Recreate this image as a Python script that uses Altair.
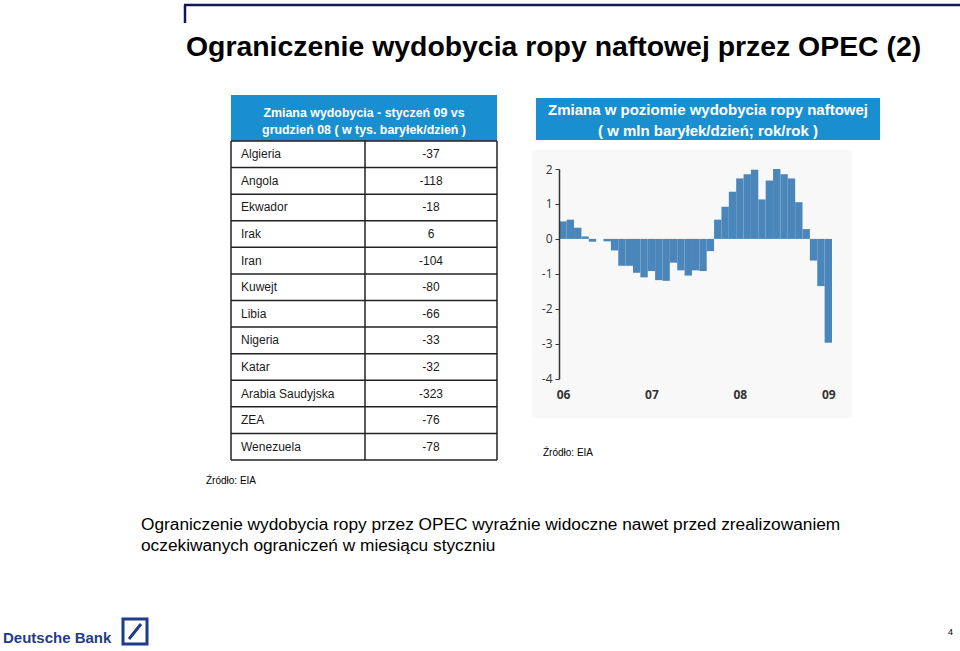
import json
import altair as alt
import pandas as pd

# ---------------- data ----------------
countries = ["Algieria", "Angola", "Ekwador", "Irak", "Iran", "Kuwejt", "Libia",
             "Nigeria", "Katar", "Arabia Saudyjska", "ZEA", "Wenezuela"]
changes = ["-37", "-118", "-18", "6", "-104", "-80", "-66", "-33", "-32", "-323", "-76", "-78"]

# monthly y/y change, Jan 2006 .. Jan 2009 (mln bbl/day)
monthly = [0.50, 0.55, 0.32, 0.07, -0.08, 0.00, -0.07, -0.33, -0.77, -0.77, -0.97, -1.10,
           -0.92, -1.18, -1.20, -0.68, -0.90, -1.05, -0.90, -0.92, -0.35, 0.55, 0.92, 1.35,
           1.73, 1.85, 1.98, 1.13, 1.67, 2.00, 1.85, 1.73, 1.05, 0.28, -0.62, -1.35,
           -2.97]
year_labels = ["06", "07", "08", "09"]
y_ticks = [2, 1, 0, -1, -2, -3, -4]

# ---------------- helpers ----------------
one = pd.DataFrame({"k": [0]})
FONT = "Liberation Sans"


def txt(s, x, y, size, weight="normal", color="#000000", align="left", font=FONT):
    return alt.Chart(one).mark_text(
        text=s, fontSize=size, fontWeight=weight, color=color, align=align,
        baseline="middle", font=font
    ).encode(x=alt.value(x), y=alt.value(y))


def rect(x1, x2, y1, y2, color, stroke=None, sw=0):
    kw = dict(color=color)
    if stroke:
        kw = dict(fill=color, stroke=stroke, strokeWidth=sw)
    return alt.Chart(one).mark_rect(**kw).encode(
        x=alt.value(x1), x2=alt.value(x2), y=alt.value(y1), y2=alt.value(y2))


def rule(x1, x2, y1, y2, color, sw):
    return alt.Chart(one).mark_rule(color=color, strokeWidth=sw).encode(
        x=alt.value(x1), x2=alt.value(x2), y=alt.value(y1), y2=alt.value(y2))


# ---------------- bar chart ----------------
bars_df = pd.DataFrame({"v": monthly})
bars_df["m0"] = range(len(monthly))
bars_df["m1"] = bars_df["m0"] + 1
bars_df["zero"] = 0.0

label_expr = json.dumps(year_labels) + "[floor(datum.value/12)]"
xs = alt.Scale(domain=[0, len(monthly)], range=[559.3, 832])
ys = alt.Scale(domain=[-4, 2], range=[378.7, 169])

bars = alt.Chart(bars_df).mark_rect(color="#4a86b9").encode(
    x=alt.X("m0:Q", scale=xs, axis=alt.Axis(
        orient="bottom", offset=384 - 651, values=[0.5, 12.5, 24.5, 36.5],
        labelExpr=label_expr, domain=False, ticks=False, tickSize=0, grid=False,
        labelPadding=5, labelFont="Open Sans", labelFontSize=12, labelFontWeight="bold",
        labelColor="#333333", title=None, zindex=2)),
    x2="m1:Q",
    y=alt.Y("v:Q", scale=ys, axis=alt.Axis(
        orient="left", offset=-559, values=y_ticks, domain=True, domainColor="#333333",
        domainWidth=1.5, ticks=True, tickSize=4, tickColor="#333333", grid=False,
        labelExpr="toString(datum.value)",
        labelPadding=3, labelFont="Open Sans", labelFontSize=12, labelColor="#333333",
        title=None, zindex=2)),
    y2="zero:Q",
)

# ---------------- table ----------------
tab_df = pd.DataFrame({"country": countries, "change": changes})
tab_df["idx"] = range(len(countries))
ty = alt.Scale(domain=[0, len(countries)], range=[141, 460])

tab_country = alt.Chart(tab_df).transform_calculate(mid="datum.idx + 0.5").mark_text(
    align="left", baseline="middle", fontSize=12, font=FONT, color="#1a1a1a"
).encode(x=alt.value(241), y=alt.Y("mid:Q", scale=ty, axis=None), text="country:N")

tab_value = alt.Chart(tab_df).transform_calculate(mid="datum.idx + 0.5").mark_text(
    align="center", baseline="middle", fontSize=12, font=FONT, color="#1a1a1a"
).encode(x=alt.value(431), y=alt.Y("mid:Q", scale=ty, axis=None), text="change:N")

lines_df = pd.DataFrame({"b": list(range(len(countries) + 1))})
tab_hlines = alt.Chart(lines_df).mark_rule(color="#222222", strokeWidth=1.5).encode(
    x=alt.value(231), x2=alt.value(497), y=alt.Y("b:Q", scale=ty, axis=None))

layers = [
    # faint background behind bar chart image
    rect(532, 852, 150, 418, "#f8f8f8"),
    bars,
    # top frame line
    rule(184, 960, 5, 5, "#15155a", 2.5),
    rule(185, 185, 5, 23, "#15155a", 2.5),
    # title
    txt("Ograniczenie wydobycia ropy naftowej przez OPEC (2)", 186, 47, 28.4, "bold"),
    # table header
    rect(231, 497, 95, 141, "#1a8fd0"),
    txt("Zmiana wydobycia - styczeń 09 vs", 364, 113, 12.4, "bold", "#ffffff", "center"),
    txt("grudzień 08 ( w tys. baryłek/dzień )", 364, 130, 12.4, "bold", "#ffffff", "center"),
    tab_hlines,
    rule(231, 231, 141, 460, "#222222", 1.5),
    rule(365, 365, 141, 460, "#222222", 1.5),
    rule(497, 497, 141, 460, "#222222", 1.5),
    tab_country,
    tab_value,
    txt("Źródło: EIA", 206, 481, 10),
    # chart header
    rect(536, 880, 98, 140, "#1a8fd0"),
    txt("Zmiana w poziomie wydobycia ropy naftowej", 708, 110, 15, "bold", "#ffffff", "center"),
    txt("( w mln baryłek/dzień; rok/rok )", 708, 131, 15, "bold", "#ffffff", "center"),
    txt("Źródło: EIA", 543, 453, 10),
    # commentary
    txt("Ograniczenie wydobycia ropy przez OPEC wyraźnie widoczne nawet przed zrealizowaniem",
        141, 525, 17.3),
    txt("oczekiwanych ograniczeń w miesiącu styczniu", 141, 546, 17.3),
    # footer
    txt("Deutsche Bank", 3, 638, 15, "bold", "#1f3c88"),
    rect(123, 147, 619, 644, "#ffffff", "#1f3c88", 3),
    rule(129, 141, 639, 624, "#1f3c88", 3),
    txt("4", 948, 632, 9),
]

chart = alt.layer(*layers).resolve_scale(x="independent", y="independent").properties(
    width=960, height=651, padding=0,
    autosize=alt.AutoSizeParams(type="none"),
).configure_view(strokeWidth=0)

chart.save("out.html", embed_options={"renderer": "svg", "actions": False})
